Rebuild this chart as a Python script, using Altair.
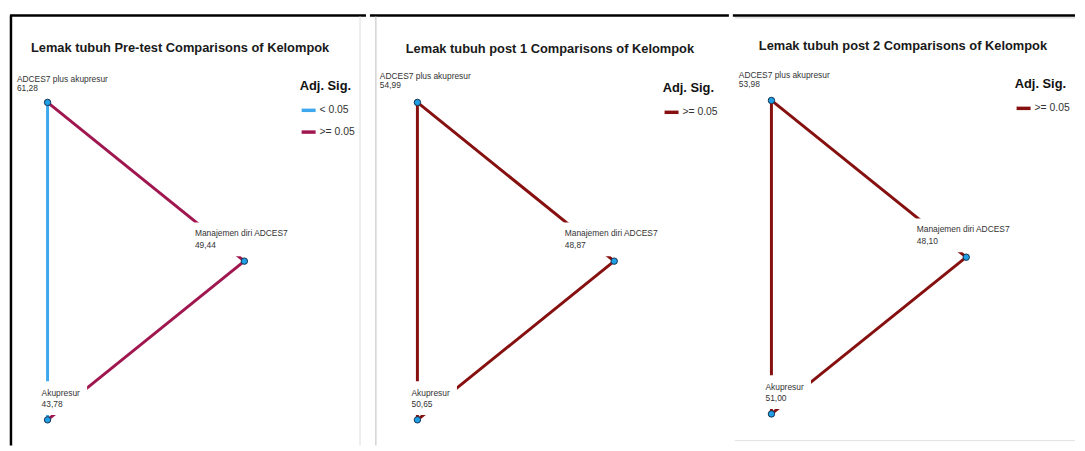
import altair as alt
import pandas as pd

# ---------------- data ----------------
groups = ["ADCES7 plus akupresur", "Manajemen diri ADCES7", "Akupresur"]
panel_titles = [
    "Lemak tubuh Pre-test Comparisons of Kelompok",
    "Lemak tubuh post 1 Comparisons of Kelompok",
    "Lemak tubuh post 2 Comparisons of Kelompok",
]
mean_rank_pre = [61.28, 49.44, 43.78]
mean_rank_post1 = [54.99, 48.87, 50.65]
mean_rank_post2 = [53.98, 48.10, 51.00]

edge_from = [0, 0, 1]
edge_to = [1, 2, 2]
sig_pre = [">= 0.05", "< 0.05", ">= 0.05"]
sig_post1 = [">= 0.05", ">= 0.05", ">= 0.05"]
sig_post2 = [">= 0.05", ">= 0.05", ">= 0.05"]

# network layout of the three nodes (triangle)
layout_x = [0, 1, 0]
layout_y = [1, 0, -1]

# ---------------- styles ----------------
FONT = "Liberation Sans, Arial, sans-serif"
H = 440
BLUE = "#3ea8ee"
CRIMSON = "#a0174f"
DARKRED = "#861010"
NODE_FILL = "#1f9fe6"
NODE_STROKE = "#17314d"

one = pd.DataFrame({"d": [0]})


def fmt(v):
    return f"{v:.2f}".replace(".", ",")


def panel(i, ranks, sigs, dom, rng, W, anchors, legend_xy, title_xy, top_dx, top_dy, borders):
    px0, px1, pyt, pyb = anchors
    ux = px1 - px0
    xdom = [-px0 / ux, (W - px0) / ux]
    uy = (pyb - pyt) / 2
    cy = (pyt + pyb) / 2
    ydom = [-(H - cy) / uy, cy / uy]
    xs = alt.Scale(domain=xdom, nice=False, zero=False)
    ys = alt.Scale(domain=ydom, nice=False, zero=False)

    nodes = pd.DataFrame({
        "group": groups,
        "rank": [fmt(r) for r in ranks],
        "lx": layout_x,
        "ly": layout_y,
    })
    edges = pd.DataFrame({
        "x1": [layout_x[a] for a in edge_from],
        "y1": [layout_y[a] for a in edge_from],
        "x2": [layout_x[b] for b in edge_to],
        "y2": [layout_y[b] for b in edge_to],
        "sig": sigs,
    })

    layers = []
    # borders (decoration)
    for (x, x2, y, y2, col, sw) in borders:
        layers.append(
            alt.Chart(one).mark_rule(color=col, strokeWidth=sw).encode(
                x=alt.value(x), x2=alt.value(x2), y=alt.value(y), y2=alt.value(y2)
            )
        )

    edge_layer = alt.Chart(edges).mark_rule(strokeWidth=3).encode(
        x=alt.X("x1:Q", scale=xs, axis=None),
        y=alt.Y("y1:Q", scale=ys, axis=None),
        x2="x2:Q",
        y2="y2:Q",
        color=alt.Color(
            "sig:N",
            scale=alt.Scale(domain=dom, range=rng),
            legend=alt.Legend(
                title="Adj. Sig.",
                orient="none",
                legendX=legend_xy[0],
                legendY=legend_xy[1],
                titleFont=FONT,
                titleFontSize=13,
                titleFontWeight="bold",
                titleColor="#111111",
                titlePadding=9,
                labelFont=FONT,
                labelFontSize=10.5,
                labelColor="#333333",
                labelOffset=2,
                symbolType="stroke",
                symbolStrokeWidth=3.5,
                symbolSize=200,
                rowPadding=6,
                padding=0,
            ),
        ),
    )
    layers.append(edge_layer)

    base = alt.Chart(nodes).encode(
        x=alt.X("lx:Q", scale=xs, axis=None),
        y=alt.Y("ly:Q", scale=ys, axis=None),
    )
    # label back-boxes (white) per node: (xOffset, yOffset, width, height)
    boxes = [(0, -22, 40, 34), (-3, -22, 98, 34), (16, -22, 48, 34)]
    label_dx = [top_dx, -50, -6]
    name_dy = [top_dy, -28, -27]
    val_dy = [top_dy + 9.5, -16, -16]
    for k in range(3):
        bx, by, bw, bh = boxes[k]
        sub = base.transform_filter(alt.datum.group == groups[k])
        layers.append(
            sub.mark_rect(width=bw, height=bh, xOffset=bx, yOffset=by, color="white")
        )
    layers.append(
        base.mark_point(shape="circle", filled=True, fill=NODE_FILL, stroke=NODE_STROKE,
                        strokeWidth=1, size=42, opacity=1)
    )
    for k in range(3):
        sub = base.transform_filter(alt.datum.group == groups[k])
        layers.append(
            sub.mark_text(align="left", baseline="middle", font=FONT, fontSize=8.5,
                          color="#333333", dx=label_dx[k], dy=name_dy[k]).encode(text="group:N")
        )
        layers.append(
            sub.mark_text(align="left", baseline="middle", font=FONT, fontSize=8.5,
                          color="#333333", dx=label_dx[k], dy=val_dy[k]).encode(text="rank:N")
        )
    layers.append(
        alt.Chart(one).mark_text(text=panel_titles[i], font=FONT, fontSize=13,
                                 fontWeight="bold", color="#1a1a1a",
                                 align="center", baseline="middle").encode(
            x=alt.value(title_xy[0]), y=alt.value(title_xy[1])
        )
    )
    return alt.layer(*layers).properties(width=W, height=H)


W1, W2, W3 = 360, 363, 346
p1 = panel(
    0, mean_rank_pre, sig_pre, ["< 0.05", ">= 0.05"], [BLUE, CRIMSON],
    W1, (38, 237, 93, 414), (293, 70), (172, 38), -31, -24,
    [(0, W1, 5, 5, "#000000", 2.5), (1, 1, 5, H, "#000000", 2.5),
     (354, 354, 6, H, "#dddddd", 1)],
)
p2 = panel(
    1, mean_rank_post1, sig_post1, [">= 0.05"], [DARKRED],
    W2, (48, 247, 93, 414), (296, 72), (182, 39), -38, -27,
    [(0, W2, 5, 5, "#000000", 2.5), (6, 6, 6, H, "#c8c8c8", 1.2)],
)
p3 = panel(
    2, mean_rank_post2, sig_post2, [">= 0.05"], [DARKRED],
    W3, (39, 236, 91, 408), (285, 68), (172, 36), -33, -26,
    [(0, W3, 5, 5, "#000000", 2.5), (2, W3, 7.5, 7.5, "#d0d0d0", 1),
     (2, W3, 435, 435, "#e2e2e2", 1)],
)

chart = (
    alt.hconcat(p1, p2, p3, spacing=0)
    .resolve_scale(x="independent", y="independent", color="independent")
    .properties(padding={"left": 0, "top": 0, "right": 0, "bottom": 0}, background="white")
    .configure_view(stroke=None)
)

chart.save("out.html", embed_options={"renderer": "svg", "actions": False})
